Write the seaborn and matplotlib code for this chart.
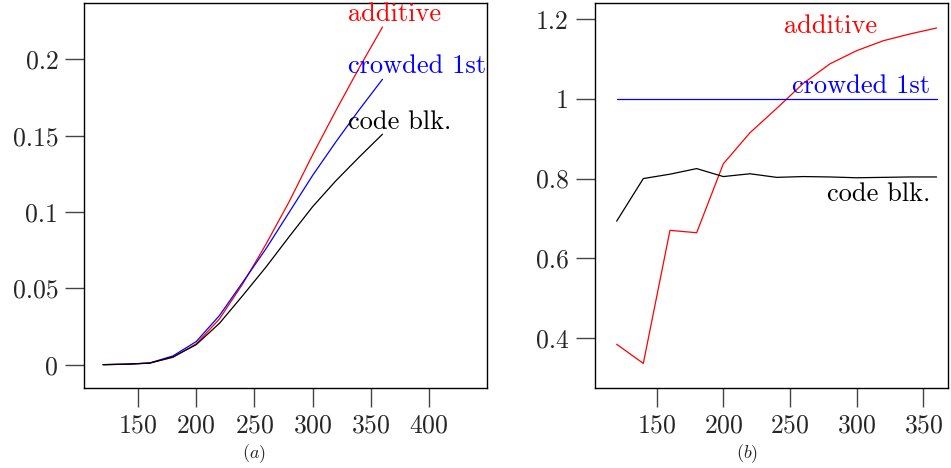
import numpy as np
import pandas as pd
import matplotlib
matplotlib.use("Agg")
import matplotlib.pyplot as plt
import seaborn as sns

# Message sizes on the x axis
sizes = [120, 140, 160, 180, 200, 220, 240, 260, 280, 300, 320, 340, 360]

# (a) absolute values
abs_additive = [0.0, 0.0003, 0.0010, 0.0048, 0.0136, 0.0300, 0.0530, 0.0790,
                0.1070, 0.1375, 0.1665, 0.1945, 0.2212]
abs_crowded = [0.0, 0.0003, 0.0011, 0.0057, 0.0151, 0.0322, 0.0540, 0.0760,
               0.1000, 0.1240, 0.1460, 0.1670, 0.1870]
abs_codeblk = [0.0, 0.0003, 0.0010, 0.0050, 0.0131, 0.0271, 0.0453, 0.0640,
               0.0840, 0.1035, 0.1205, 0.1360, 0.1510]

# (b) values relative to "crowded 1st"
rel_additive = [0.384, 0.336, 0.670, 0.664, 0.837, 0.915, 0.976, 1.039,
                1.088, 1.121, 1.146, 1.163, 1.178]
rel_crowded = [1.0] * 13
rel_codeblk = [0.693, 0.800, 0.811, 0.825, 0.805, 0.812, 0.803, 0.805,
               0.804, 0.802, 0.803, 0.804, 0.804]

series_names = ["additive", "crowded 1st", "code blk."]
series_colors = {"additive": "#ff0000", "crowded 1st": "#0000ff", "code blk.": "#000000"}

sns.set_theme(style="white")
plt.rcParams.update({
    "font.family": ["cmr10", "DejaVu Serif"],
    "mathtext.fontset": "cm",
    "axes.formatter.use_mathtext": True,
    "axes.unicode_minus": False,
    "font.size": 18.5,
    "axes.edgecolor": "black",
    "axes.linewidth": 1.0,
})


def long_frame(a, c, k):
    return pd.DataFrame({
        "size": sizes * 3,
        "value": a + c + k,
        "series": sum([[n] * len(sizes) for n in series_names], []),
    })


df_a = long_frame(abs_additive, abs_crowded, abs_codeblk)
df_b = long_frame(rel_additive, rel_crowded, rel_codeblk)

fig = plt.figure(figsize=(9.51, 4.68), dpi=100)
ax1 = fig.add_axes([0.0883, 0.1716, 0.5121 - 0.0883, 0.993 - 0.1716])
ax2 = fig.add_axes([0.6253, 0.1716, 0.9968 - 0.6253, 0.993 - 0.1716])

for ax, df in ((ax1, df_a), (ax2, df_b)):
    sns.lineplot(data=df, x="size", y="value", hue="series", hue_order=series_names,
                 palette=series_colors, linewidth=0.9, legend=False, ax=ax,
                 estimator=None, sort=False)
    ax.set_xlabel("")
    ax.set_ylabel("")
    for s in ax.spines.values():
        s.set_visible(True)
        s.set_color("black")
        s.set_linewidth(1.0)
    ax.tick_params(axis="both", direction="out", length=13.5, width=1.0,
                   color="#444444", labelsize=18.5, pad=5,
                   bottom=True, left=True, top=False, right=False)

# (a)
ax1.set_xlim(103.6, 449.8)
ax1.set_ylim(-0.0151, 0.2368)
ax1.set_xticks([150, 200, 250, 300, 350, 400])
ax1.set_yticks([0, 0.05, 0.1, 0.15, 0.2])
ax1.set_yticklabels(["0", "0.05", "0.1", "0.15", "0.2"])
ax1.text(330.4, 0.2300, "additive", color=series_colors["additive"], ha="left", va="center", fontsize=19)
ax1.text(330.4, 0.1958, "crowded 1st", color=series_colors["crowded 1st"], ha="left", va="center", fontsize=19)
ax1.text(330.4, 0.1590, "code blk.", color=series_colors["code blk."], ha="left", va="center", fontsize=19)

# (b)
ax2.set_xlim(103.5, 368.5)
ax2.set_ylim(0.275, 1.24)
ax2.set_xticks([150, 200, 250, 300, 350])
ax2.set_yticks([0.4, 0.6, 0.8, 1.0, 1.2])
ax2.set_yticklabels(["0.4", "0.6", "0.8", "1", "1.2"])
ax2.text(315, 1.182, "additive", color=series_colors["additive"], ha="right", va="center", fontsize=19)
ax2.text(355, 1.033, "crowded 1st", color=series_colors["crowded 1st"], ha="right", va="center", fontsize=19)
ax2.text(355, 0.762, "code blk.", color=series_colors["code blk."], ha="right", va="center", fontsize=19)

# Sub-figure captions
fig.text(254 / 951, 1 - 454 / 468, r"$(a)$", ha="center", va="center", fontsize=13)
fig.text(747 / 951, 1 - 454 / 468, r"$(b)$", ha="center", va="center", fontsize=13)

fig.savefig("out.png", dpi=100)
